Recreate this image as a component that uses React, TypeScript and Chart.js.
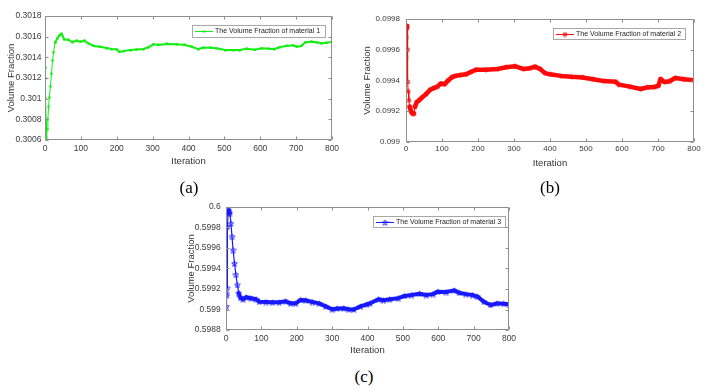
import React, { useEffect, useRef } from "react";
import { Chart, registerables } from "chart.js";

Chart.register(...registerables);

// ---------- data ----------
const iterationTicks = [0, 100, 200, 300, 400, 500, 600, 700, 800];

const material1Iterations = [
  0, 1, 2, 3, 4, 6, 8, 10, 12, 15, 18, 21, 24, 28, 34, 41, 47, 53, 65, 76, 88, 99, 110, 121, 135, 153, 172, 186,
  200, 207, 218, 237, 255, 274, 288, 302, 316, 339, 367, 390, 409, 427, 441, 460, 479, 502, 525, 543, 562, 585,
  604, 622, 639, 655, 674, 692, 701, 715, 725, 743, 757, 771, 785, 800,
];
const material1Fraction = [
  0.3013, 0.3012, 0.301, 0.3008, 0.30062, 0.3007, 0.3008, 0.30092, 0.30101, 0.30112, 0.30124, 0.30137, 0.30145,
  0.30154, 0.301584, 0.301616, 0.301626, 0.301574, 0.301568, 0.301548, 0.301561, 0.301551, 0.30156, 0.301536,
  0.30151, 0.301503, 0.30149, 0.30148, 0.301478, 0.301452, 0.30146, 0.30147, 0.301475, 0.30148, 0.301497,
  0.301526, 0.30152, 0.30153, 0.301526, 0.30152, 0.301503, 0.30148, 0.301493, 0.301493, 0.301487, 0.30147,
  0.30147, 0.30147, 0.301483, 0.301474, 0.301487, 0.301483, 0.30148, 0.3015, 0.30151, 0.301516, 0.301503,
  0.30151, 0.301545, 0.301551, 0.301545, 0.301536, 0.30154, 0.30155,
];
const material1Ticks = [0.3006, 0.3008, 0.301, 0.3012, 0.3014, 0.3016, 0.3018];

const material2Iterations = [
  0, 1, 2, 3, 4, 5, 6, 8, 10, 14, 18, 22, 25, 30, 36, 45, 55, 67, 77, 87, 97, 107, 117, 127, 137, 152, 167, 180,
  194, 222, 255, 278, 303, 326, 345, 358, 372, 386, 400, 430, 460, 490, 520, 550, 582, 592, 622, 652, 670, 690,
  701, 707, 718, 732, 748, 772, 800,
];
const material2Fraction = [
  0.09955, 0.09968, 0.09974, 0.099755, 0.0996, 0.09939, 0.09933, 0.09927, 0.09923, 0.0992, 0.099185, 0.099185,
  0.09923, 0.09926, 0.09927, 0.09929, 0.09931, 0.09934, 0.09935, 0.09936, 0.09938, 0.099376, 0.0994, 0.09942,
  0.09943, 0.099436, 0.09944, 0.099455, 0.09947, 0.09947, 0.099475, 0.099486, 0.099492, 0.099475, 0.09948,
  0.09949, 0.099476, 0.099448, 0.09944, 0.09943, 0.099424, 0.09942, 0.099408, 0.099396, 0.099392, 0.099373,
  0.09936, 0.099345, 0.099355, 0.099357, 0.099366, 0.09941, 0.09939, 0.099395, 0.099416, 0.099408, 0.099402,
];
const material2Ticks = [0.099, 0.0992, 0.0994, 0.0996, 0.0998];

const material3Iterations = [
  0, 1, 2, 3, 4, 6, 8, 11, 14, 17, 20, 24, 28, 32, 36, 41, 48, 57, 71, 85, 94, 113, 131, 150, 169, 183, 197, 211,
  225, 244, 263, 282, 300, 314, 333, 347, 361, 380, 398, 407, 431, 445, 463, 487, 505, 524, 547, 566, 585, 599,
  622, 645, 659, 678, 697, 711, 729, 748, 766, 785, 800,
];
const material3Fraction = [
  0.59916, 0.59903, 0.59914, 0.59921, 0.59981, 0.59994, 0.59997, 0.59994, 0.59984, 0.59971, 0.59958, 0.59945,
  0.59934, 0.59924, 0.59916, 0.599115, 0.5991, 0.59912, 0.59911, 0.5991, 0.599076, 0.599073, 0.59907, 0.59907,
  0.59908, 0.59906, 0.59906, 0.599093, 0.59909, 0.599073, 0.59906, 0.59903, 0.599002, 0.59901, 0.599012,
  0.599002, 0.599, 0.59903, 0.59905, 0.59906, 0.5991, 0.59909, 0.5991, 0.59911, 0.599132, 0.599141, 0.599154,
  0.599141, 0.59915, 0.599174, 0.59917, 0.599187, 0.599164, 0.59915, 0.599141, 0.599125, 0.599076, 0.599044,
  0.59906, 0.599057, 0.59905,
];
const material3Ticks = [0.5988, 0.599, 0.5992, 0.5994, 0.5996, 0.5998, 0.6];

const legendLabels = [
  "The Volume Fraction of material 1",
  "The Volume Fraction of material 2",
  "The Volume Fraction of material 3",
];
const captions = ["(a)", "(b)", "(c)"];
const xTitle = "Iteration";
const yTitle = "Volume Fraction";

// ---------- styling ----------
const SANS = '"Liberation Sans", Arial, sans-serif';
const FRAME = "#8e8e8e";
const TEXT = "#3a3a3a";

type MarkerKind = "dot" | "asterisk" | "pentagram";

function makeMarker(kind: MarkerKind, color: string, size: number): HTMLCanvasElement {
  const c = document.createElement("canvas");
  c.width = size;
  c.height = size;
  const g = c.getContext("2d")!;
  const m = size / 2;
  g.strokeStyle = color;
  g.fillStyle = color;
  g.lineWidth = 1;
  if (kind === "dot") {
    g.beginPath();
    g.arc(m, m, m - 0.2, 0, Math.PI * 2);
    g.fill();
  } else if (kind === "asterisk") {
    const r = m - 0.5;
    g.beginPath();
    g.moveTo(m, m - r);
    g.lineTo(m, m + r);
    g.moveTo(m - r, m);
    g.lineTo(m + r, m);
    const d = r * 0.72;
    g.moveTo(m - d, m - d);
    g.lineTo(m + d, m + d);
    g.moveTo(m - d, m + d);
    g.lineTo(m + d, m - d);
    g.stroke();
  } else {
    const R = m - 0.5;
    const r = R * 0.4;
    g.lineWidth = 0.9;
    g.beginPath();
    for (let i = 0; i < 10; i++) {
      const a = -Math.PI / 2 + (i * Math.PI) / 5;
      const rr = i % 2 === 0 ? R : r;
      const px = m + rr * Math.cos(a);
      const py = m + 0.4 + rr * Math.sin(a);
      if (i === 0) g.moveTo(px, py);
      else g.lineTo(px, py);
    }
    g.closePath();
    g.stroke();
  }
  return c;
}

type PanelLayout = {
  left: number;
  top: number;
  width: number;
  height: number;
  pad: { left: number; top: number; right: number; bottom: number };
  yAxisW: number;
  xAxisH: number;
  yTickPad: number;
  yTitlePad: number;
  xTickPad: number;
  xTitlePad: number;
  tickSize: number;
  legend: { x: number; y: number; w: number; h: number };
};

type PanelProps = {
  iters: number[];
  values: number[];
  yTicks: number[];
  label: string;
  color: string;
  marker: MarkerKind;
  markerSize: number;
  thick: number;
  thin: number;
  layout: PanelLayout;
};

function Panel({ iters, values, yTicks, label, color, marker, markerSize, thick, thin, layout }: PanelProps) {
  const ref = useRef<HTMLCanvasElement>(null);

  useEffect(() => {
    const canvas = ref.current;
    if (!canvas) return;
    const markerImg = makeMarker(marker, color, markerSize);
    const tickFont = { family: SANS, size: layout.tickSize };
    const titleFont = { family: SANS, size: 9.5 };

    const framePlugin = {
      id: "matlabFrame",
      afterDatasetsDraw(chart: any) {
        const { ctx, chartArea } = chart;
        const l = Math.round(chartArea.left) + 0.5;
        const t = Math.round(chartArea.top) + 0.5;
        const r = Math.round(chartArea.right) - 0.5;
        const b = Math.round(chartArea.bottom) - 0.5;
        const tl = 3;
        ctx.save();
        ctx.strokeStyle = FRAME;
        ctx.lineWidth = 1;
        ctx.beginPath();
        ctx.rect(l, t, r - l, b - t);
        const xs = chart.scales.x;
        const ys = chart.scales.y;
        iterationTicks.forEach((v) => {
          const px = Math.round(xs.getPixelForValue(v)) + 0.5;
          ctx.moveTo(px, b);
          ctx.lineTo(px, b - tl);
          ctx.moveTo(px, t);
          ctx.lineTo(px, t + tl);
        });
        yTicks.forEach((v) => {
          const py = Math.round(ys.getPixelForValue(v)) + 0.5;
          ctx.moveTo(l, py);
          ctx.lineTo(l + tl, py);
          ctx.moveTo(r, py);
          ctx.lineTo(r - tl, py);
        });
        ctx.stroke();
        ctx.restore();
      },
    };

    const legendPlugin = {
      id: "matlabLegend",
      afterDraw(chart: any) {
        const { ctx } = chart;
        const { x, y, w, h } = layout.legend;
        ctx.save();
        ctx.fillStyle = "#ffffff";
        ctx.fillRect(x, y, w, h);
        ctx.strokeStyle = "#a8a8a8";
        ctx.lineWidth = 1;
        ctx.strokeRect(x + 0.5, y + 0.5, w, h);
        const my = Math.round(y + h / 2) + 0.5;
        ctx.strokeStyle = color;
        ctx.beginPath();
        ctx.moveTo(x + 3, my);
        ctx.lineTo(x + 21, my);
        ctx.stroke();
        ctx.drawImage(markerImg, x + 12 - markerImg.width / 2, my - markerImg.height / 2);
        ctx.fillStyle = "#222222";
        ctx.font = `7px ${SANS}`;
        ctx.textAlign = "left";
        ctx.textBaseline = "middle";
        ctx.fillText(label, x + 23, my);
        ctx.restore();
      },
    };

    const chart = new Chart(canvas, {
      type: "line",
      data: {
        datasets: [
          {
            label,
            data: iters.map((x, i) => ({ x, y: values[i] })),
            borderColor: color,
            backgroundColor: color,
            borderWidth: thick,
            borderJoinStyle: "round",
            borderCapStyle: "round",
            pointStyle: markerImg as any,
            pointRadius: markerSize / 2,
            tension: 0,
            segment: {
              borderWidth: (ctx: any) => {
                const dx = Math.abs(ctx.p1.x - ctx.p0.x);
                const dy = Math.abs(ctx.p1.y - ctx.p0.y);
                return dy > 5 && dy > 4 * dx ? thin : thick;
              },
            },
          } as any,
        ],
      },
      options: {
        animation: false,
        responsive: false,
        devicePixelRatio: 1,
        events: [],
        layout: { padding: layout.pad },
        plugins: { legend: { display: false }, tooltip: { enabled: false } },
        scales: {
          x: {
            type: "linear",
            min: 0,
            max: 800,
            afterBuildTicks: (s: any) => {
              s.ticks = iterationTicks.map((v) => ({ value: v }));
            },
            afterFit: (s: any) => {
              s.height = layout.xAxisH;
            },
            grid: { display: false, drawTicks: false },
            border: { display: false },
            ticks: {
              padding: layout.xTickPad,
              font: tickFont,
              color: TEXT,
              maxRotation: 0,
              autoSkip: false,
              callback: (v: any) => String(v),
            },
            title: {
              display: true,
              text: xTitle,
              font: titleFont,
              color: "#333333",
              padding: { top: 0, bottom: layout.xTitlePad },
            },
          },
          y: {
            type: "linear",
            min: yTicks[0],
            max: yTicks[yTicks.length - 1],
            afterBuildTicks: (s: any) => {
              s.ticks = yTicks.map((v) => ({ value: v }));
            },
            afterFit: (s: any) => {
              s.width = layout.yAxisW;
            },
            grid: { display: false, drawTicks: false },
            border: { display: false },
            ticks: {
              padding: layout.yTickPad,
              font: tickFont,
              color: TEXT,
              autoSkip: false,
              callback: (v: any) => String(v),
            },
            title: {
              display: true,
              text: yTitle,
              font: titleFont,
              color: "#333333",
              padding: { top: layout.yTitlePad, bottom: 0 },
            },
          },
        },
      } as any,
      plugins: [framePlugin, legendPlugin],
    });
    return () => chart.destroy();
  }, []);

  return (
    <canvas
      ref={ref}
      width={layout.width}
      height={layout.height}
      style={{
        position: "absolute",
        left: layout.left,
        top: layout.top,
        width: layout.width,
        height: layout.height,
      }}
    />
  );
}

const layoutA: PanelLayout = {
  left: 0,
  top: 0,
  width: 345,
  height: 172,
  pad: { left: 0, top: 16, right: 13, bottom: 4 },
  yAxisW: 45,
  xAxisH: 28,
  yTickPad: 3.5,
  yTitlePad: 5.3,
  xTickPad: 3.5,
  xTitlePad: 0.6,
  tickSize: 8.5,
  legend: { x: 192, y: 25, w: 133, h: 12 },
};

const layoutB: PanelLayout = {
  left: 355,
  top: 0,
  width: 350,
  height: 172,
  pad: { left: 0, top: 19, right: 11, bottom: 2 },
  yAxisW: 51,
  xAxisH: 28,
  yTickPad: 6,
  yTitlePad: 7,
  xTickPad: 2.2,
  xTitlePad: 1,
  tickSize: 8,
  legend: { x: 198, y: 28, w: 132, h: 11 },
};

const layoutC: PanelLayout = {
  left: 170,
  top: 185,
  width: 350,
  height: 172,
  pad: { left: 0, top: 22, right: 8, bottom: 0 },
  yAxisW: 56,
  xAxisH: 27,
  yTickPad: 5.3,
  yTitlePad: 16,
  xTickPad: 3.9,
  xTitlePad: 0.6,
  tickSize: 8.5,
  legend: { x: 203, y: 31, w: 132, h: 11 },
};

const captionPos = [
  { x: 189, y: 187 },
  { x: 550, y: 187 },
  { x: 364, y: 376 },
];

export default function App() {
  return (
    <div style={{ position: "absolute", left: 0, top: 0, width: 705, height: 391, background: "#fff", overflow: "hidden" }}>
      <Panel
        iters={material1Iterations}
        values={material1Fraction}
        yTicks={material1Ticks}
        label={legendLabels[0]}
        color="#14ee14"
        marker="dot"
        markerSize={3}
        thick={2}
        thin={1}
        layout={layoutA}
      />
      <Panel
        iters={material2Iterations}
        values={material2Fraction}
        yTicks={material2Ticks}
        label={legendLabels[1]}
        color="#ff0a0a"
        marker="asterisk"
        markerSize={6}
        thick={4.5}
        thin={1}
        layout={layoutB}
      />
      <Panel
        iters={material3Iterations}
        values={material3Fraction}
        yTicks={material3Ticks}
        label={legendLabels[2]}
        color="#1a1aff"
        marker="pentagram"
        markerSize={7}
        thick={4}
        thin={1.2}
        layout={layoutC}
      />
      {captions.map((c, i) => (
        <div
          key={c}
          style={{
            position: "absolute",
            left: captionPos[i].x,
            top: captionPos[i].y,
            transform: "translate(-50%, -50%)",
            fontFamily: '"Liberation Serif", "Times New Roman", serif',
            fontSize: 17,
            lineHeight: 1,
            color: "#000",
            whiteSpace: "nowrap",
          }}
        >
          {c}
        </div>
      ))}
    </div>
  );
}
